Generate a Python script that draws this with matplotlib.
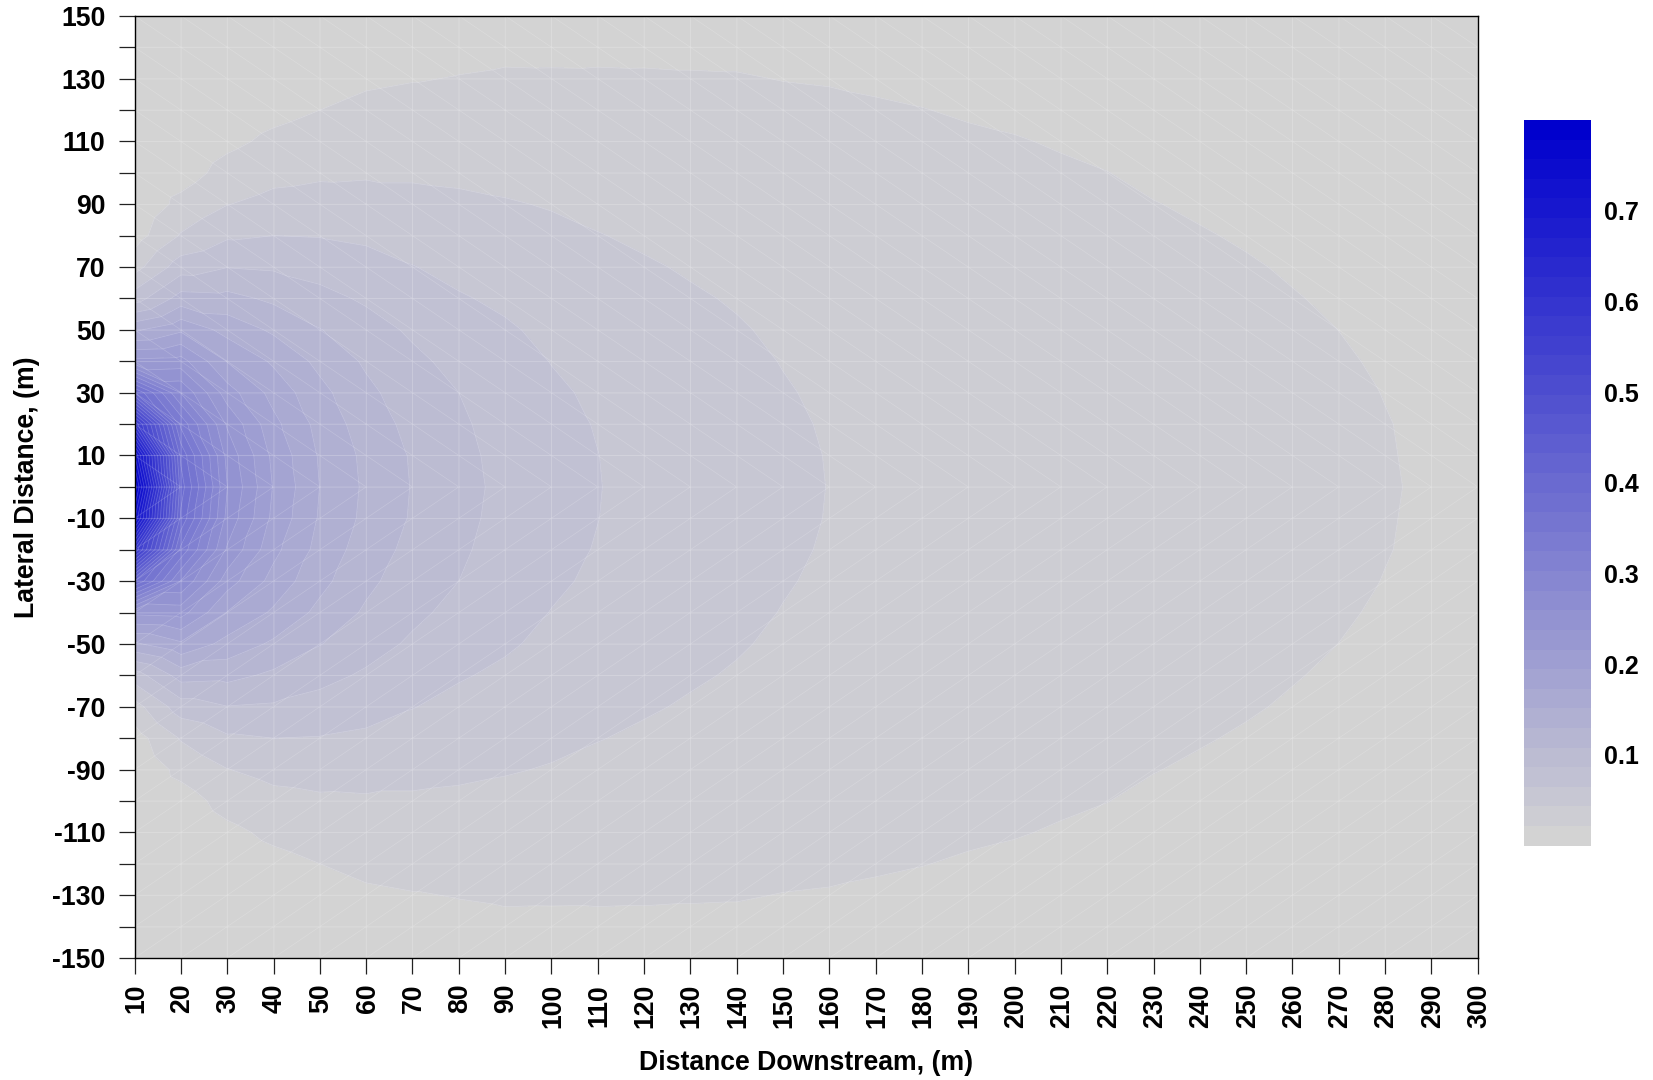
import numpy as np
import matplotlib
matplotlib.use('Agg')
import matplotlib.pyplot as plt
import matplotlib.tri as mtri
from matplotlib.colors import LinearSegmentedColormap
from matplotlib.transforms import ScaledTranslation

plt.rcParams['font.family'] = ['Liberation Sans', 'DejaVu Sans']
plt.rcParams['font.weight'] = 'bold'

# grid of the plume model, metres
distance = list(range(10, 310, 10))
lateral_half = list(range(0, 160, 10))

# concentration read off the contour bands, one row per downstream distance,
# lateral distance 0..150 m (the plume is mirrored about the centre line)
conc_near = [
    [.795, .738, .581, .390, .222, .148, .076, .035, .012, .004, .001, .0003, .0001, .0001, .0001, .0001],
    [.400, .384, .340, .280, .225, .169, .117, .0762, .045, .0276, .012, .0055, .002, .0008, .0003, .0001],
    [.260, .253, .235, .205, .172, .144, .1147, .086, .0618, .0427, .029, .017, .0095, .0045, .002, .001],
    [.193, .189, .179, .165, .148, .126, .104, .084, .0649, .0497, .037, .0259, .016, .0095, .0055, .003],
    [.151, .149, .144, .136, .124, .109, .093, .0785, .064, .0516, .040, .031, .0216, .015, .0095, .0055],
    [.126, .1245, .119, .113, .105, .095, .0835, .073, .061, .0508, .041, .0334, .0257, .019, .0135, .0085],
    [.107, .106, .102, .097, .091, .0833, .0745, .0655, .0571, .048, .041, .0346, .0275, .0208, .0155, .011],
    [.0925, .0915, .0895, .0865, .0805, .0735, .0665, .0597, .0531, .0465, .040, .0335, .0275, .0222, .0175, .0135],
    [.082, .0810, .0790, .0760, .0720, .0672, .0615, .0555, .0500, .0445, .0385, .0330, .0278, .0232, .0189, .015],
    [.072, .0715, .0701, .0677, .0644, .0606, .0562, .0515, .0470, .0422, .0369, .0320, .0273, .0230, .0190, .0155],
]
conc_mid = [
    [.0655, .0651, .0639, .0620, .0593, .0560, .0523, .0482, .0438, .0395, .0351, .0308, .0267, .0229, .0194, .0162],
    [.0592, .0589, .0579, .0563, .0541, .0514, .0483, .0447, .0411, .0373, .0335, .0297, .0261, .0227, .0195, .0165],
    [.054, .0537, .0529, .0515, .0497, .0474, .0448, .0419, .0387, .0354, .0321, .0288, .0255, .0224, .0195, .0167],
    [.050, .0498, .0491, .0479, .0463, .0444, .0421, .0395, .0368, .0339, .0309, .0280, .0250, .0222, .0195, .0170],
    [.046, .0458, .0452, .0442, .0428, .0411, .0391, .0368, .0344, .0319, .0292, .0266, .0239, .0214, .0189, .0166],
    [.0430, .0428, .0422, .0412, .0400, .0385, .0368, .0348, .0327, .0304, .0281, .0257, .0234, .0210, .0187, .0166],
    [.040, .0398, .0394, .0386, .0375, .0362, .0346, .0329, .0310, .0290, .0268, .0247, .0225, .0204, .0183, .0163],
    [.0375, .0374, .0369, .0362, .0353, .0341, .0327, .0312, .0294, .0276, .0257, .0237, .0218, .0198, .0179, .0160],
    [.035, .0349, .0345, .0339, .0330, .0320, .0308, .0294, .0278, .0262, .0244, .0227, .0209, .0191, .0173, .0156],
    [.033, .0329, .0325, .0320, .0312, .0303, .0291, .0278, .0264, .0249, .0235, .0220, .0203, .0185, .0167, .0151],
]
conc_far = [
    [.031, .0309, .0306, .0301, .0294, .0286, .0275, .0264, .0251, .0238, .0225, .0211, .0195, .0177, .0162, .0148],
    [.0295, .0294, .0291, .0287, .0280, .0272, .0263, .0252, .0241, .0230, .0217, .0203, .0187, .0172, .0158, .0144],
    [.028, .0279, .0277, .0272, .0267, .0259, .0250, .0241, .0230, .0218, .0205, .0192, .0179, .0166, .0153, .0139],
    [.0267, .0266, .0264, .0260, .0254, .0248, .0240, .0230, .0220, .0209, .0198, .0186, .0173, .0161, .0148, .0136],
    [.0255, .0254, .0252, .0248, .0243, .0237, .0229, .0221, .0211, .0201, .0190, .0178, .0167, .0155, .0143, .0131],
    [.0243, .0242, .0240, .0237, .0232, .0226, .0219, .0211, .0202, .0192, .0182, .0171, .0160, .0148, .0137, .0126],
    [.0232, .0231, .0229, .0226, .0222, .0216, .0209, .0202, .0193, .0184, .0174, .0164, .0154, .0143, .0132, .0122],
    [.0220, .0219, .0218, .0215, .0210, .0205, .0199, .0192, .0184, .0175, .0166, .0156, .0147, .0137, .0127, .0117],
    [.0210, .0209, .0208, .0205, .0201, .0196, .0190, .0184, .0176, .0168, .0159, .0150, .0141, .0132, .0122, .0113],
    [.0200, .0199, .0198, .0196, .0192, .0187, .0182, .0176, .0168, .0161, .0153, .0144, .0136, .0127, .0118, .0109],
]

colorbar_ticks = [0.1, 0.2, 0.3, 0.4, 0.5, 0.6, 0.7]
n_bands = 37
z_max = 0.8

# mirror the half plume about y = 0
half = np.array(conc_near + conc_mid + conc_far)
z = np.hstack([half[:, :0:-1], half])
y_half = np.array(lateral_half)
y = np.concatenate([-y_half[:0:-1], y_half])
x = np.array(distance)

X, Y = np.meshgrid(x, y, indexing='ij')
nx, ny = X.shape

# triangles, diagonals meet in chevrons on the centre line
triangles = []
for i in range(nx - 1):
    for j in range(ny - 1):
        a = i * ny + j
        b = (i + 1) * ny + j
        c = (i + 1) * ny + j + 1
        d = i * ny + j + 1
        if y[j] >= 0:
            triangles += [[a, b, d], [b, c, d]]
        else:
            triangles += [[a, b, c], [a, c, d]]
tri = mtri.Triangulation(X.ravel(), Y.ravel(), triangles)

levels = np.linspace(0, z_max, n_bands + 1)
ramp = LinearSegmentedColormap.from_list('plume', ['#D3D3D3', '#0000CD'], N=n_bands)

fig = plt.figure(figsize=(16.53, 10.8), dpi=100)
W, H = 1653.0, 1080.0
ax = fig.add_axes([134.6 / W, 1 - 958.0 / H, 1343.1 / W, 942.2 / H])

cf = ax.tricontourf(tri, z.ravel(), levels=levels, cmap=ramp)
# the pale seams between the filled pieces
ax.tricontour(tri, z.ravel(), levels=levels[1:], colors='white', linewidths=0.5, alpha=0.25)
ax.triplot(tri, color='white', lw=0.5, alpha=0.19)
ax.hlines(y, 10, 300, color='white', lw=0.9, alpha=0.09)
ax.vlines(x, -150, 150, color='white', lw=0.9, alpha=0.09)

ax.set_xlim(10, 300)
ax.set_ylim(-150, 150)

ax.set_xticks(x)
ax.set_xticklabels([str(v) for v in x], rotation=90, fontsize=19.2, fontweight='bold')
yticks = np.arange(-150, 160, 10)
ax.set_yticks(yticks)
ax.set_yticklabels([str(v) if (v + 150) % 20 == 0 else '' for v in yticks], fontsize=19.2, fontweight='bold')
ax.tick_params(axis='both', length=11.6, width=0.9, pad=9.4, color='#222222')
ax.tick_params(axis='x', pad=7.0)

# rotated labels sit a little left of their ticks otherwise
nudge = ScaledTranslation(1.5 / 100, 0, fig.dpi_scale_trans)
for lbl in ax.get_xticklabels():
    lbl.set_transform(lbl.get_transform() + nudge)

ax.set_xlabel('Distance Downstream, (m)', fontsize=19.2, fontweight='bold', va='center')
ax.set_ylabel('Lateral Distance, (m)', fontsize=19.2, fontweight='bold', va='center')
ax.xaxis.set_label_coords(0.5, (958.0 - 1063.0) / 942.2)
ax.yaxis.set_label_coords((27.0 - 134.6) / 1343.1, 0.5)

for spine in ax.spines.values():
    spine.set_linewidth(1.0)

cax = fig.add_axes([1524.0 / W, 1 - 845.7 / H, 67.0 / W, 725.7 / H])
cb = fig.colorbar(cf, cax=cax, ticks=colorbar_ticks)
cb.outline.set_visible(False)
cb.ax.set_yticklabels([f'{v:.1f}' for v in colorbar_ticks], fontsize=18, fontweight='bold')
cb.ax.tick_params(length=0, pad=9.4)

fig.savefig('out.png', dpi=100)
